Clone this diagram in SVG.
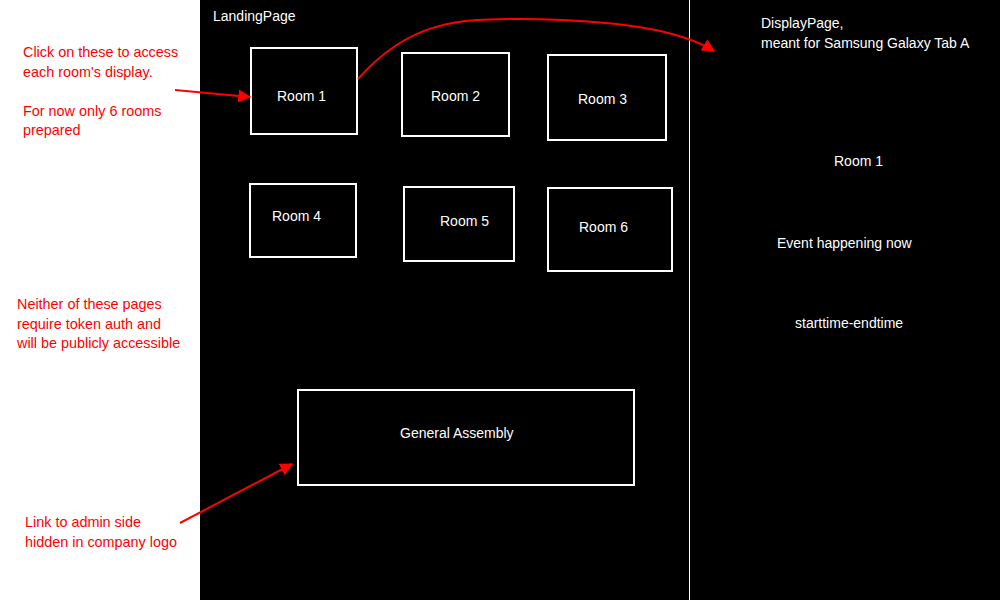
<svg xmlns="http://www.w3.org/2000/svg" width="1000" height="600" viewBox="0 0 1000 600">
<style>
.w{font-family:"Liberation Sans",Arial,sans-serif;font-size:14px;fill:#fff}
.r{font-family:"Liberation Sans",Arial,sans-serif;font-size:14.4px;fill:#f00}
.box{fill:none;stroke:#fff;stroke-width:2}
.arr{fill:none;stroke:#f00;stroke-width:2}
</style>
<defs>
<marker id="ah" viewBox="0 0 10 10" refX="9" refY="5" markerWidth="6.5" markerHeight="6.5" orient="auto" markerUnits="strokeWidth">
<path d="M0,0 L10,5 L0,10 z" fill="#f00"/>
</marker>
</defs>
<rect x="0" y="0" width="1000" height="600" fill="#fff"/>
<rect x="200" y="0" width="800" height="600" fill="#000"/>
<line x1="689.5" y1="0" x2="689.5" y2="600" stroke="#fff" stroke-width="1"/>
<text class="w" x="213" y="21">LandingPage</text>
<g id="room1"><rect class="box" x="251" y="48" width="106" height="86"/><text class="w" x="277" y="101">Room 1</text></g>
<g id="room2"><rect class="box" x="402" y="53" width="107" height="83"/><text class="w" x="431" y="101">Room 2</text></g>
<g id="room3"><rect class="box" x="548" y="55" width="118" height="85"/><text class="w" x="578" y="104">Room 3</text></g>
<g id="room4"><rect class="box" x="250" y="184" width="106" height="73"/><text class="w" x="272" y="221">Room 4</text></g>
<g id="room5"><rect class="box" x="404" y="187" width="110" height="74"/><text class="w" x="440" y="226">Room 5</text></g>
<g id="room6"><rect class="box" x="548" y="188" width="124" height="83"/><text class="w" x="579" y="232">Room 6</text></g>
<g id="general"><rect class="box" x="298" y="390" width="336" height="95"/><text class="w" x="400" y="438">General Assembly</text></g>
<g id="display">
<text class="w" x="761" y="28">DisplayPage,</text>
<text class="w" x="761" y="48">meant for Samsung Galaxy Tab A</text>
<text class="w" x="834" y="166">Room 1</text>
<text class="w" x="777" y="248">Event happening now</text>
<text class="w" x="795" y="328">starttime-endtime</text>
</g>
<g id="notes">
<text class="r" x="23" y="57">Click on these to access</text>
<text class="r" x="23" y="77">each room's display.</text>
<text class="r" x="23" y="116">For now only 6 rooms</text>
<text class="r" x="23" y="135">prepared</text>
<text class="r" x="17" y="309">Neither of these pages</text>
<text class="r" x="17" y="329">require token auth and</text>
<text class="r" x="17" y="348">will be publicly accessible</text>
<text class="r" x="25" y="527">Link to admin side</text>
<text class="r" x="25" y="547">hidden in company logo</text>
</g>
<g id="connectors">
<path class="arr" d="M175,90 L250,97" marker-end="url(#ah)"/>
<path class="arr" d="M358,79 C410,20 460,19 520,19 C620,20 680,30 714,51" marker-end="url(#ah)"/>
<path class="arr" d="M180,523 L292,464" marker-end="url(#ah)"/>
</g>
</svg>
